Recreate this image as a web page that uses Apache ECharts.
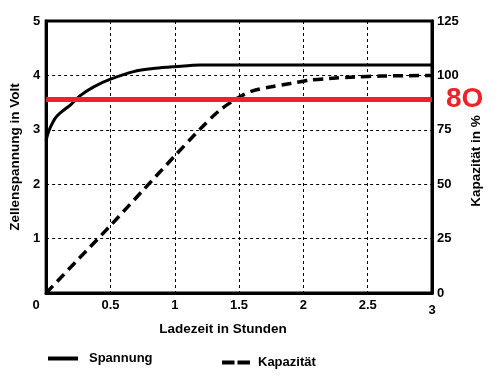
<!DOCTYPE html>
<html>
<head>
<meta charset="utf-8">
<script src="https://cdn.jsdelivr.net/npm/echarts@6/dist/echarts.min.js"></script>
<style>html,body{margin:0;padding:0;background:#fff}#c{width:496px;height:390px}</style>
</head>
<body>
<div id="c"></div>
<script>
const spannungTime = [0, 0.01, 0.03, 0.07, 0.11, 0.19, 0.26, 0.37, 0.5, 0.68, 0.85, 1.0, 1.2, 1.5, 2.0, 2.5, 3.0];
const spannungVolt = [2.8, 2.9, 3.03, 3.21, 3.31, 3.46, 3.62, 3.79, 3.93, 4.07, 4.13, 4.16, 4.19, 4.19, 4.19, 4.19, 4.19];
const kapazitaetTime = [0, 0.25, 0.5, 0.75, 1.0, 1.2, 1.35, 1.5, 1.6, 1.75, 1.9, 2.05, 2.2, 2.4, 2.6, 3.0];
const kapazitaetPct = [0, 15.5, 31, 47, 63, 75.5, 84, 90, 92.8, 94.8, 96.3, 97.8, 98.6, 99.3, 99.7, 100];
const markerVolt = [3.566];
const markerLabel = ['8O'];
const xTicks = ['0', '0.5', '1', '1.5', '2', '2.5', '3'];
const leftTicks = ['', '1', '2', '3', '4', '5'];
const rightTicks = ['0', '25', '50', '75', '100', '125'];
const seriesNames = ['Spannung', 'Kapazität'];
const axisTitles = ['Ladezeit in Stunden', 'Zellenspannung in Volt', 'Kapazität in %'];

const FONT = 'Liberation Sans';
const txt = {fontFamily: FONT, fontWeight: 'bold', fontSize: 13, color: '#000'};
const ttl = {fontFamily: FONT, fontWeight: 'bold', fontSize: 13.5, color: '#000'};
const gridLine = {show: true, lineStyle: {color: '#000', width: 1, type: [3, 3]}};
const axLine = {show: true, lineStyle: {color: '#000', width: 3}};

const chart = echarts.init(document.getElementById('c'), null, {renderer: 'canvas'});
chart.setOption({
  animation: false,
  backgroundColor: '#fff',
  grid: {left: 46, right: 64, top: 21, bottom: 97, show: true, borderColor: '#000', borderWidth: 3},
  legend: [
    {left: 46, top: 352, padding: 0, itemWidth: 30, itemHeight: 14,
     data: [{name: seriesNames[0]}], textStyle: Object.assign({}, txt, {padding: [0, 0, 0, 6]}),
     lineStyle: {width: 4}, itemStyle: {opacity: 0, borderWidth: 0}},
    {left: 220, top: 356, padding: 0, itemWidth: 28, itemHeight: 14,
     data: [{name: seriesNames[1]}], textStyle: Object.assign({}, txt, {padding: [0, 0, 0, 3]}),
     lineStyle: {width: 4, type: [12.5, 3]}, itemStyle: {opacity: 0, borderWidth: 0}}
  ],
  xAxis: {
    type: 'value', min: 0, max: 3, interval: 0.5,
    name: axisTitles[0], nameLocation: 'middle', nameGap: 28,
    nameTextStyle: Object.assign({}, ttl, {padding: [0, 32, 0, 0]}),
    axisLine: axLine, axisTick: {show: false}, splitLine: gridLine,
    axisLabel: Object.assign({}, txt, {
      margin: 6,
      formatter: function (v) {
        const i = Math.round(v / 0.5);
        const s = xTicks[i];
        if (i === 0) return '{z|' + s + '}';
        if (i === xTicks.length - 1) return '{e|' + s + '}';
        return s;
      },
      rich: {
        z: Object.assign({}, txt, {padding: [0, 20, 0, 0]}),
        e: Object.assign({}, txt, {padding: [5, 0, 0, 0]})
      }
    })
  },
  yAxis: [
    {
      type: 'value', min: 0, max: 5, interval: 1, position: 'left',
      name: axisTitles[1], nameLocation: 'middle', nameGap: 18, nameRotate: 90,
      nameTextStyle: ttl,
      axisLine: axLine, axisTick: {show: false}, splitLine: gridLine,
      axisLabel: Object.assign({}, txt, {margin: 6, formatter: function (v) { return leftTicks[Math.round(v)]; }})
    },
    {
      type: 'value', min: 0, max: 125, interval: 25, position: 'right',
      name: axisTitles[2], nameLocation: 'middle', nameGap: 25, nameRotate: 90,
      nameTextStyle: Object.assign({}, ttl, {padding: [0, 8, 0, 0]}),
      axisLine: axLine, axisTick: {show: false}, splitLine: {show: false},
      axisLabel: Object.assign({}, txt, {margin: 5, formatter: function (v) { return rightTicks[Math.round(v / 25)]; }})
    }
  ],
  series: [
    {
      name: seriesNames[0], type: 'line', yAxisIndex: 0, symbol: 'none', smooth: 0.3,
      color: '#000',
      lineStyle: {color: '#000', width: 3},
      data: spannungTime.map((t, i) => [t, spannungVolt[i]]),
      z: 3,
      markLine: {
        silent: true, symbol: ['none', 'none'], animation: false,
        lineStyle: {color: '#ee2229', width: 5, type: 'solid'},
        label: {show: true, position: 'end', distance: 14, formatter: markerLabel[0],
                color: '#ee2229', fontFamily: FONT, fontWeight: 'bold', fontSize: 28},
        emphasis: {disabled: true},
        data: [{yAxis: markerVolt[0]}]
      }
    },
    {
      name: seriesNames[1], type: 'line', yAxisIndex: 1, symbol: 'none', smooth: 0.3,
      color: '#000',
      lineStyle: {color: '#000', width: 3.5, type: [10, 6]},
      data: kapazitaetTime.map((t, i) => [t, kapazitaetPct[i]]),
      z: 2
    }
  ]
});
</script>
</body>
</html>
